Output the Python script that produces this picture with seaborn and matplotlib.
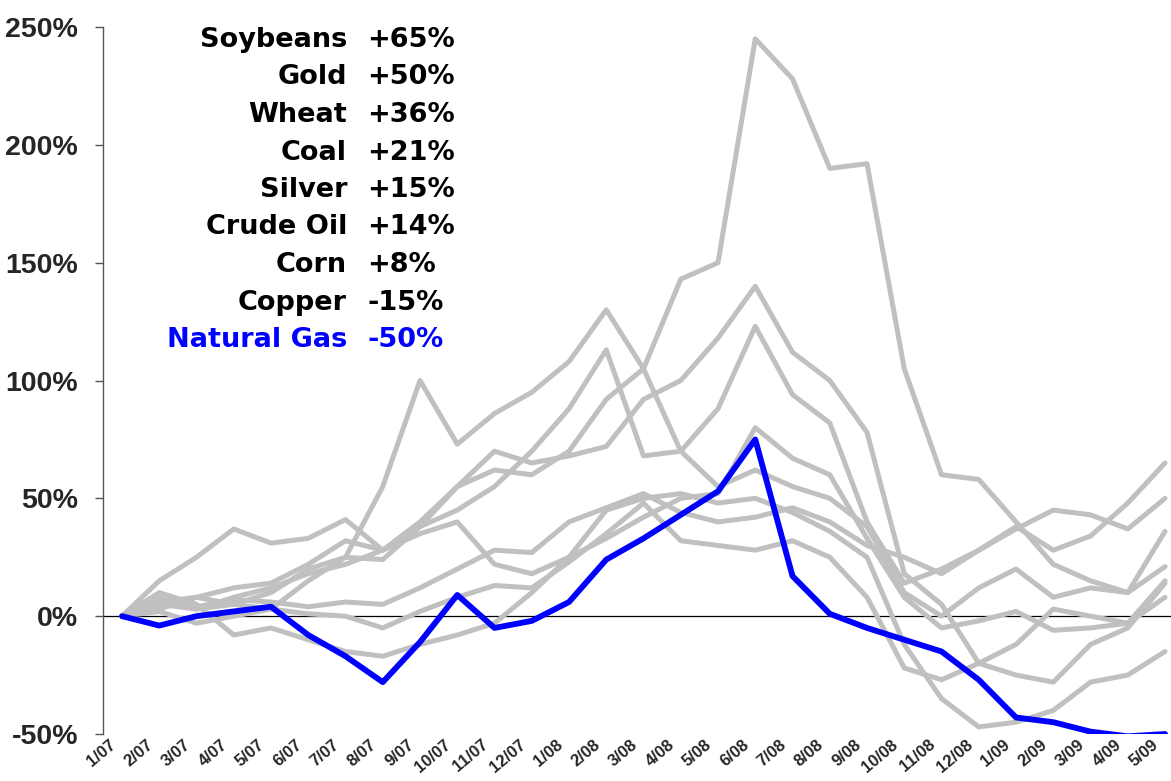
import pandas as pd
import matplotlib
matplotlib.use("Agg")
import matplotlib.pyplot as plt
import seaborn as sns

# month labels, 1/07 .. 5/09
months = ["1/07", "2/07", "3/07", "4/07", "5/07", "6/07", "7/07", "8/07", "9/07",
          "10/07", "11/07", "12/07", "1/08", "2/08", "3/08", "4/08", "5/08", "6/08",
          "7/08", "8/08", "9/08", "10/08", "11/08", "12/08", "1/09", "2/09", "3/09",
          "4/09", "5/09"]

# % change since 1/07
soybeans = [0, 6, 8, 5, 10, 20, 25, 24, 38, 45, 55, 70, 88, 113, 68, 70, 88, 123, 94,
            82, 40, 14, 20, 28, 38, 28, 34, 48, 65]
gold = [0, 5, 4, 7, 6, 4, 6, 5, 12, 20, 28, 27, 40, 46, 52, 44, 40, 42, 46, 40, 30, 25,
        18, 28, 37, 45, 43, 37, 50]
wheat = [0, 2, -3, 0, 3, 15, 25, 55, 100, 73, 86, 95, 108, 130, 105, 70, 55, 62, 55, 50,
         38, 10, 0, 12, 20, 8, 12, 10, 36]
coal = [0, 5, 3, 8, 12, 18, 22, 28, 38, 55, 62, 60, 70, 92, 105, 143, 150, 245, 228, 190,
        192, 105, 60, 58, 40, 22, 15, 10, 21]
silver = [0, 8, 3, 5, 3, 1, 0, -5, 2, 8, 13, 12, 23, 35, 48, 32, 30, 28, 32, 25, 8, -22,
          -27, -20, -12, 3, 0, -3, 15]
crude_oil = [0, 3, 8, 12, 14, 22, 32, 28, 40, 55, 70, 65, 68, 72, 92, 100, 118, 140, 112,
             100, 78, 18, 5, -20, -25, -28, -12, -5, 14]
corn = [0, 10, 5, -8, -5, -10, -15, -17, -12, -8, -3, 10, 25, 33, 42, 50, 52, 80, 67, 60,
        33, 8, -5, -2, 2, -6, -5, -3, 8]
copper = [0, 15, 25, 37, 31, 33, 41, 28, 35, 40, 22, 18, 25, 45, 50, 52, 48, 50, 44, 36,
          25, -12, -35, -47, -45, -40, -28, -25, -15]
natural_gas = [0, -4, 0, 2, 4, -8, -17, -28, -11, 9, -5, -2, 6, 24, 33, 43, 53, 75, 17, 1,
               -5, -10, -15, -27, -43, -45, -49, -51, -50]

names = ["Soybeans", "Gold", "Wheat", "Coal", "Silver", "Crude Oil", "Corn", "Copper",
         "Natural Gas"]
changes = ["+65%", "+50%", "+36%", "+21%", "+15%", "+14%", "+8%", "-15%", "-50%"]
series = [soybeans, gold, wheat, coal, silver, crude_oil, corn, copper, natural_gas]

rows = []
for name, vals in zip(names, series):
    for i, v in enumerate(vals):
        rows.append({"commodity": name, "month": i, "change": v})
df = pd.DataFrame(rows)

GREY = "#C0C0C0"
BLUE = "#0000FF"

sns.set_style("white")
plt.rcParams["font.family"] = ["Liberation Sans", "DejaVu Sans"]

fig = plt.figure(figsize=(11.71, 7.81), dpi=100)
ax = fig.add_axes([103 / 1171, 0.0602, 1 - 103 / 1171, 0.9052])

ax.axhline(0, color="black", lw=0.9, zorder=1)

greys = df[df["commodity"] != "Natural Gas"]
sns.lineplot(data=greys, x="month", y="change", hue="commodity",
             palette={n: GREY for n in names[:-1]}, lw=3.6, legend=False,
             ax=ax, sort=False, zorder=2)
sns.lineplot(data=df[df["commodity"] == "Natural Gas"], x="month", y="change",
             color=BLUE, lw=4.2, legend=False, ax=ax, sort=False, zorder=3)
for line in ax.get_lines():
    line.set_solid_joinstyle("round")
    line.set_solid_capstyle("round")

ax.set_xlim(-0.51, 28.16)
ax.set_ylim(-50, 250)
ax.set_yticks(range(-50, 251, 50))
ax.set_yticklabels([f"{v}%" for v in range(-50, 251, 50)],
                   fontsize=20.5, fontweight="bold")
# slanted month labels sit a little left of each month so 5/09 stays inside
ax.set_xticks([i - 0.35 for i in range(len(months))])
ax.set_xticklabels(months, fontsize=12, fontweight="bold", rotation=40,
                   ha="right", va="top", rotation_mode="anchor")
ax.tick_params(axis="y", length=6, width=1, color="#555555", direction="out",
               pad=12, left=True)
ax.tick_params(axis="x", length=0, pad=2)
ax.set_xlabel("")
ax.set_ylabel("")

for side in ["top", "right", "bottom"]:
    ax.spines[side].set_visible(False)
ax.spines["left"].set_color("#555555")
ax.spines["left"].set_linewidth(1)

# label block, names right-aligned, changes left-aligned
for k, (name, chg) in enumerate(zip(names, changes)):
    y = 1 - (47 + 37.5 * k) / 781
    color = BLUE if name == "Natural Gas" else "black"
    fig.text(347 / 1171, y, name, ha="right", va="baseline", fontsize=19.5,
             fontweight="bold", color=color, family="DejaVu Sans")
    fig.text(367 / 1171, y, chg, ha="left", va="baseline", fontsize=19.5,
             fontweight="bold", color=color, family="DejaVu Sans")

fig.savefig("out.png", dpi=100)
